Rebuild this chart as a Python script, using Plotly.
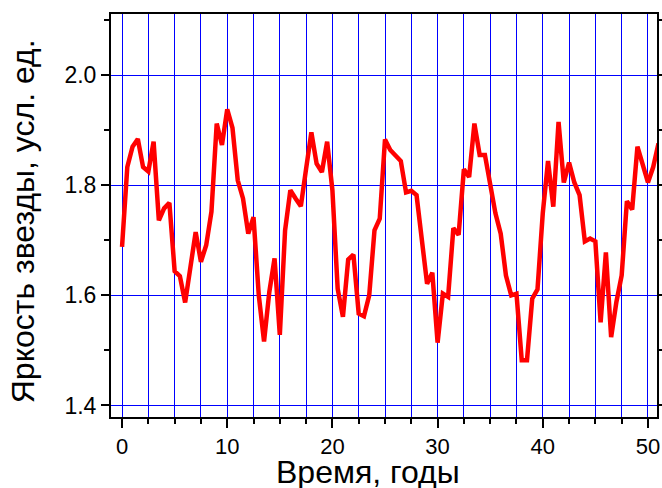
import plotly.graph_objects as go

years = [i * 0.5 for i in range(103)]
brightness = [
    1.688, 1.833, 1.870, 1.884, 1.833, 1.825, 1.879, 1.736, 1.758, 1.768,
    1.644, 1.635, 1.587, 1.651, 1.715, 1.661, 1.691, 1.752, 1.912, 1.873,
    1.938, 1.904, 1.809, 1.776, 1.712, 1.742, 1.600, 1.516, 1.606, 1.667,
    1.528, 1.718, 1.791, 1.776, 1.762, 1.830, 1.896, 1.839, 1.824, 1.879,
    1.791, 1.612, 1.561, 1.665, 1.674, 1.567, 1.562, 1.600, 1.718, 1.739,
    1.883, 1.864, 1.853, 1.844, 1.787, 1.790, 1.782, 1.694, 1.621, 1.641,
    1.514, 1.603, 1.597, 1.722, 1.710, 1.829, 1.815, 1.912, 1.855, 1.855,
    1.797, 1.749, 1.712, 1.636, 1.600, 1.603, 1.482, 1.482, 1.594, 1.611,
    1.749, 1.844, 1.761, 1.915, 1.805, 1.841, 1.805, 1.782, 1.698, 1.703,
    1.698, 1.551, 1.678, 1.524, 1.588, 1.636, 1.771, 1.756, 1.870, 1.839,
    1.805, 1.833, 1.876,
]
x_ticks = [0, 10, 20, 30, 40, 50]
y_ticks = [1.4, 1.6, 1.8, 2.0]
x_title = "Время, годы"
y_title = "Яркость звезды, усл. ед."

font_family = "Arial, Liberation Sans, sans-serif"

fig = go.Figure()
fig.add_trace(go.Scatter(
    x=years, y=brightness, mode="lines",
    line=dict(color="#ff0000", width=4.5),
    showlegend=False,
))

fig.update_layout(
    width=662, height=488,
    margin=dict(l=111, r=5, t=14, b=71, autoexpand=False),
    paper_bgcolor="white", plot_bgcolor="white",
    font=dict(family=font_family, color="black"),
)

fig.update_xaxes(
    range=[-1.05, 50.86], automargin=False,
    tickmode="array", tickvals=x_ticks,
    ticktext=[str(v) for v in x_ticks],
    ticks="outside", ticklen=9, tickwidth=1.5, tickcolor="black",
    tickfont=dict(size=22, family=font_family),
    showline=True, linecolor="black", linewidth=2, mirror=True,
    showgrid=True, gridcolor="#0000ff", gridwidth=1,
    zeroline=False,
    minor=dict(dtick=2.5, tick0=0, ticks="outside", ticklen=5,
               tickwidth=1.5, tickcolor="black",
               showgrid=True, gridcolor="#0000ff", gridwidth=1),
)

fig.update_yaxes(
    range=[1.379, 2.111], automargin=False,
    tickmode="array", tickvals=y_ticks,
    ticktext=["%.1f" % v for v in y_ticks],
    ticks="outside", ticklen=8, tickwidth=1.5, tickcolor="black",
    tickfont=dict(size=23, family=font_family),
    showline=True, linecolor="black", linewidth=2, mirror="ticks",
    showgrid=True, gridcolor="#0000ff", gridwidth=1,
    zeroline=False,
    minor=dict(dtick=0.1, tick0=1.4, ticks="outside", ticklen=5,
               tickwidth=1.5, tickcolor="black", showgrid=False),
)

fig.add_annotation(
    text=x_title, xref="paper", yref="paper",
    x=0.4707, y=-0.137, xanchor="center", yanchor="middle",
    showarrow=False, font=dict(size=32, family=font_family, color="black"),
)
fig.add_annotation(
    text=y_title, xref="paper", yref="paper",
    x=-0.161, y=0.486, xanchor="center", yanchor="middle",
    textangle=-90,
    showarrow=False, font=dict(size=32, family=font_family, color="black"),
)

fig.write_html("out.html")
